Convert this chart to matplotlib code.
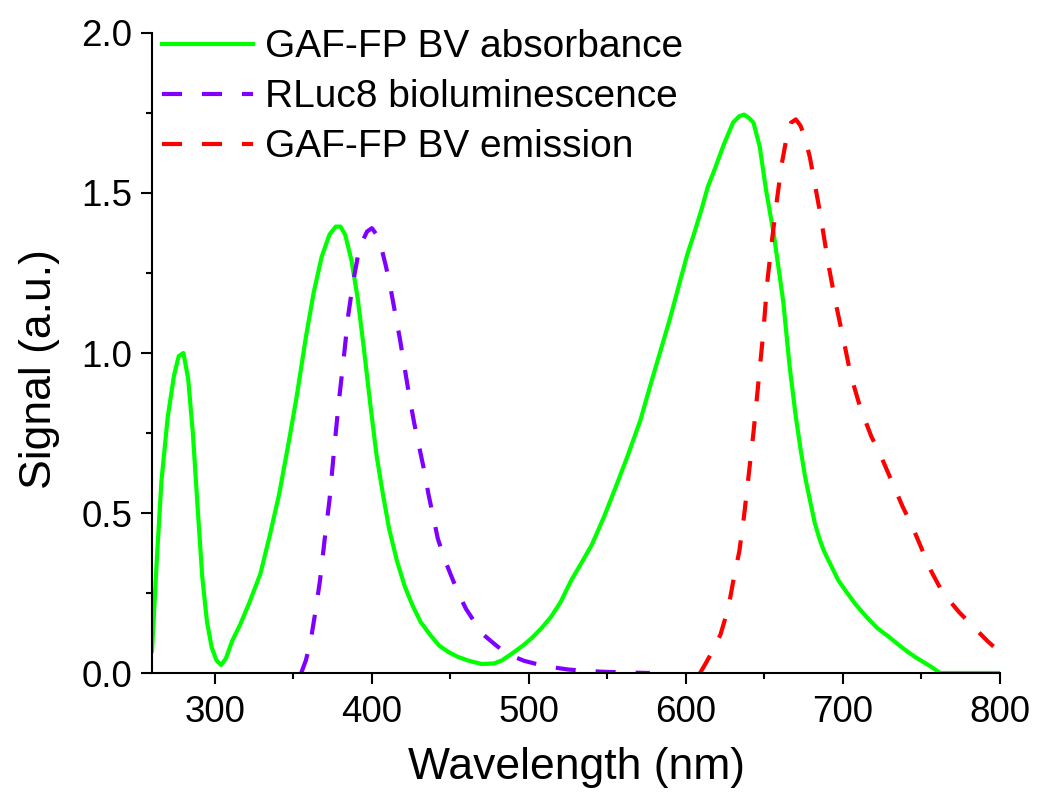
import matplotlib
matplotlib.use('Agg')
import matplotlib.pyplot as plt
from matplotlib.ticker import MultipleLocator

plt.rcParams['font.family'] = ['Liberation Sans', 'DejaVu Sans']

# GAF-FP BV absorbance
abs_wl = [260, 263, 266, 270, 274, 277, 280, 283, 286, 289, 292, 295, 298, 301, 304,
          307, 311, 316, 322, 329, 335, 341, 347, 352, 358, 363, 368, 373, 377, 380,
          383, 387, 391, 395, 399, 403, 407, 411, 416, 421, 426, 431, 437, 443, 449,
          455, 462, 470, 478, 483, 489, 496, 502, 508, 514, 520, 527, 533, 540, 548,
          556, 563, 571, 578, 584, 590, 596, 601, 605, 610, 614, 618, 624, 630, 634,
          637, 640, 643, 647, 651, 656, 662, 666, 670, 673, 676, 679, 682, 685, 688,
          692, 697, 702, 708, 715, 722, 730, 735, 741, 746, 751, 756, 762, 780, 800]
abs_val = [0.07, 0.35, 0.60, 0.80, 0.93, 0.99, 1.00, 0.92, 0.75, 0.52, 0.30, 0.16, 0.08, 0.04, 0.025,
           0.045, 0.10, 0.15, 0.22, 0.31, 0.43, 0.56, 0.72, 0.86, 1.05, 1.19, 1.30, 1.37, 1.395, 1.395,
           1.37, 1.29, 1.17, 1.01, 0.84, 0.68, 0.56, 0.45, 0.35, 0.27, 0.21, 0.16, 0.12, 0.085, 0.065,
           0.05, 0.038, 0.028, 0.03, 0.04, 0.06, 0.085, 0.11, 0.14, 0.175, 0.22, 0.29, 0.34, 0.40, 0.49,
           0.59, 0.68, 0.79, 0.91, 1.01, 1.11, 1.22, 1.31, 1.37, 1.45, 1.52, 1.57, 1.65, 1.72, 1.74,
           1.745, 1.735, 1.72, 1.645, 1.51, 1.37, 1.16, 0.96, 0.80, 0.70, 0.61, 0.54, 0.47, 0.42, 0.38,
           0.34, 0.29, 0.255, 0.215, 0.175, 0.14, 0.11, 0.09, 0.067, 0.05, 0.035, 0.02, 0.0, 0.0, 0.0]

# RLuc8 bioluminescence
rluc_wl = [355, 358, 361, 364, 367, 370, 373, 376, 379, 382, 385, 388, 391, 394, 397, 400,
           403, 406, 409, 412, 415, 418, 421, 424, 427, 430, 433, 436, 439, 442, 446, 450,
           455, 460, 466, 471, 477, 482, 490, 497, 505, 515, 525, 535, 547, 560, 577]
rluc_val = [0.0, 0.04, 0.10, 0.19, 0.29, 0.42, 0.54, 0.70, 0.85, 0.98, 1.12, 1.22, 1.30, 1.35, 1.38, 1.39,
            1.37, 1.33, 1.27, 1.20, 1.12, 1.04, 0.95, 0.86, 0.78, 0.71, 0.64, 0.56, 0.49, 0.42, 0.36, 0.31,
            0.25, 0.20, 0.155, 0.12, 0.095, 0.075, 0.052, 0.038, 0.028, 0.018, 0.011, 0.007, 0.004, 0.002, 0.0]

# GAF-FP BV emission
em_wl = [609, 612, 616, 619, 622, 625, 628, 631, 634, 637, 640, 643, 646, 649, 652, 655, 658,
         661, 664, 667, 670, 673, 676, 679, 682, 685, 688, 691, 695, 700, 705, 711, 718, 724,
         731, 738, 744, 750, 756, 762, 768, 774, 780, 786, 792, 800]
em_val = [0.0, 0.025, 0.06, 0.09, 0.12, 0.17, 0.23, 0.31, 0.38, 0.49, 0.62, 0.75, 0.90, 1.05, 1.23,
          1.36, 1.48, 1.59, 1.67, 1.72, 1.73, 1.71, 1.67, 1.61, 1.53, 1.45, 1.36, 1.27, 1.165, 1.05,
          0.93, 0.83, 0.74, 0.68, 0.60, 0.52, 0.46, 0.39, 0.32, 0.265, 0.225, 0.19, 0.16, 0.13, 0.10, 0.065]

fig = plt.figure(figsize=(10.37, 7.93), dpi=100)
ax = fig.add_axes([0.1466, 0.1513, 0.8177, 0.8071])

ax.plot(abs_wl, abs_val, color='#00ff00', lw=3, label='GAF-FP BV absorbance')
ax.plot(rluc_wl, rluc_val, color='#8000ff', lw=3, dashes=(4.8, 4.8), label='RLuc8 bioluminescence')
ax.plot(em_wl, em_val, color='#ff0000', lw=3, dashes=(4.8, 4.8), label='GAF-FP BV emission')

ax.set_xlim(260, 800)
ax.set_ylim(0, 2.0)
ax.xaxis.set_major_locator(MultipleLocator(100))
ax.xaxis.set_minor_locator(MultipleLocator(50))
ax.yaxis.set_major_locator(MultipleLocator(0.5))
ax.yaxis.set_minor_locator(MultipleLocator(0.25))
ax.yaxis.set_major_formatter(plt.FormatStrFormatter('%.1f'))

for s in ['top', 'right']:
    ax.spines[s].set_visible(False)
for s in ['left', 'bottom']:
    ax.spines[s].set_linewidth(1.5)

ax.tick_params(which='major', direction='out', length=8, width=1.5, labelsize=26.5, pad=6)
ax.tick_params(axis='x', which='major', pad=8)
ax.tick_params(which='minor', direction='out', length=4.5, width=1.5)

ax.set_xlabel('Wavelength (nm)', fontsize=32, labelpad=12)
ax.set_ylabel('Signal (a.u.)', fontsize=32)
ax.yaxis.set_label_coords(-0.109, 0.475)

ax.legend(loc='upper left', bbox_to_anchor=(0.012, 1.0055), frameon=False, fontsize=28,
          handlelength=2.34, handletextpad=0.3, labelspacing=0.36, borderpad=0, borderaxespad=0)

fig.savefig('out.png', dpi=100)
